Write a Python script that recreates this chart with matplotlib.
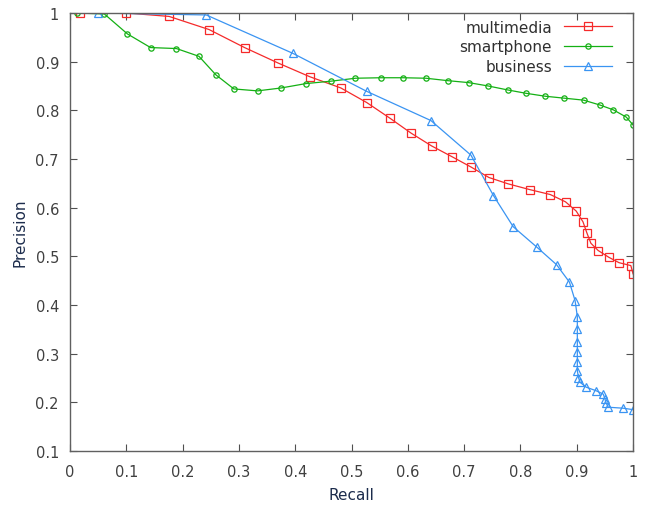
import matplotlib
matplotlib.use("Agg")
import matplotlib.pyplot as plt

# Data
mm_recall = [0.018, 0.10, 0.176, 0.247, 0.31, 0.370, 0.426, 0.481, 0.527, 0.568, 0.606, 0.642,
             0.678, 0.713, 0.744, 0.778, 0.817, 0.853, 0.880, 0.899, 0.911, 0.918, 0.925, 0.938,
             0.957, 0.975, 0.996, 1.0]
mm_prec = [1.0, 1.0, 0.993, 0.966, 0.929, 0.897, 0.869, 0.846, 0.816, 0.784, 0.753, 0.727,
           0.705, 0.683, 0.662, 0.649, 0.637, 0.627, 0.612, 0.593, 0.571, 0.548, 0.527, 0.512,
           0.498, 0.487, 0.481, 0.464]

sp_recall = [0.013, 0.061, 0.102, 0.143, 0.189, 0.229, 0.259, 0.291, 0.333, 0.375, 0.419, 0.464,
             0.507, 0.552, 0.592, 0.632, 0.671, 0.708, 0.743, 0.777, 0.810, 0.844, 0.878, 0.912,
             0.941, 0.965, 0.988, 1.0]
sp_prec = [1.0, 0.998, 0.957, 0.929, 0.927, 0.911, 0.873, 0.844, 0.840, 0.846, 0.855, 0.860,
           0.866, 0.867, 0.867, 0.866, 0.861, 0.857, 0.850, 0.842, 0.835, 0.829, 0.825, 0.821,
           0.811, 0.801, 0.786, 0.770]

bu_recall = [0.05, 0.242, 0.396, 0.527, 0.641, 0.712, 0.752, 0.787, 0.829, 0.864, 0.887, 0.897,
             0.901, 0.901, 0.901, 0.901, 0.901, 0.901, 0.903, 0.906, 0.917, 0.934, 0.947, 0.950,
             0.952, 0.956, 0.982, 1.0]
bu_prec = [1.0, 0.996, 0.917, 0.839, 0.779, 0.708, 0.625, 0.561, 0.519, 0.483, 0.447, 0.409,
           0.376, 0.351, 0.323, 0.303, 0.282, 0.265, 0.251, 0.241, 0.231, 0.224, 0.217, 0.207,
           0.199, 0.190, 0.188, 0.185]

x_ticks = [0, 0.1, 0.2, 0.3, 0.4, 0.5, 0.6, 0.7, 0.8, 0.9, 1]
x_ticklabels = ["0", "0.1", "0.2", "0.3", "0.4", "0.5", "0.6", "0.7", "0.8", "0.9", "1"]
y_ticks = [0.1, 0.2, 0.3, 0.4, 0.5, 0.6, 0.7, 0.8, 0.9, 1]
y_ticklabels = ["0.1", "0.2", "0.3", "0.4", "0.5", "0.6", "0.7", "0.8", "0.9", "1"]

plt.rcParams['font.family'] = ['DejaVu Sans']

fig = plt.figure(figsize=(6.46, 5.06), dpi=100)
ax = fig.add_axes([0.1084, 0.1067, 0.8716, 0.8656])

ax.plot(mm_recall, mm_prec, color='#f52a2a', lw=0.9, marker='s', ms=5.5,
        mfc='none', mec='#f52a2a', mew=0.9, label='multimedia')
ax.plot(sp_recall, sp_prec, color='#14b014', lw=0.9, marker='o', ms=3.8,
        mfc='none', mec='#14b014', mew=0.9, label='smartphone')
ax.plot(bu_recall, bu_prec, color='#3a94f2', lw=0.9, marker='^', ms=5.8,
        mfc='none', mec='#3a94f2', mew=0.9, label='business')

ax.set_xlim(0, 1)
ax.set_ylim(0.1, 1)
ax.set_xticks(x_ticks)
ax.set_xticklabels(x_ticklabels)
ax.set_yticks(y_ticks)
ax.set_yticklabels(y_ticklabels)
ax.tick_params(direction='in', top=True, right=True, length=5, width=0.8,
               colors='#505050', labelcolor='#404040', labelsize=10.5, pad=9)
ax.tick_params(axis='y', pad=8)
for s in ax.spines.values():
    s.set_color('#606060')
    s.set_linewidth(1.0)

ax.set_xlabel('Recall', color='#1c2c4c', fontsize=11, labelpad=6)
ax.set_ylabel('Precision', color='#1c2c4c', fontsize=11, labelpad=6)

leg = ax.legend(loc='upper right', frameon=False, markerfirst=False, fontsize=11,
                handlelength=3.1, handletextpad=0.8, labelspacing=0.3,
                borderaxespad=0.3, bbox_to_anchor=(0.981, 1.009))
for t in leg.get_texts():
    t.set_color('#303030')

fig.savefig('out.png', dpi=100)
